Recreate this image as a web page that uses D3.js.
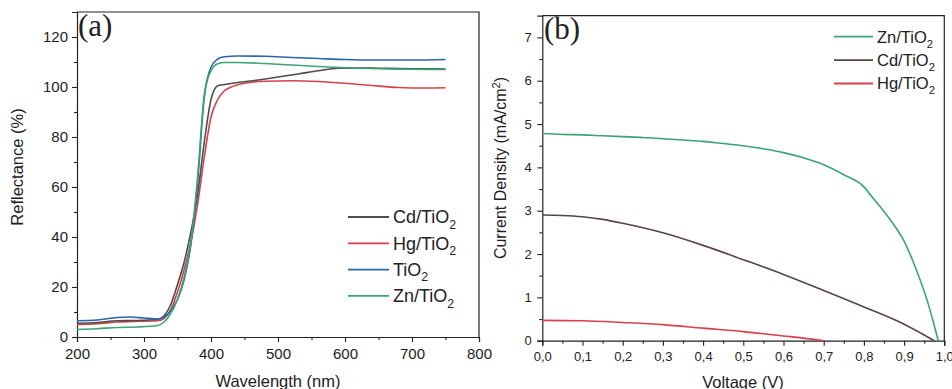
<!DOCTYPE html>
<html>
<head>
<meta charset="utf-8">
<script src="https://cdn.jsdelivr.net/npm/d3@7/dist/d3.min.js"></script>
<style>
  body { margin: 0; background: #fff; }
  text { font-family: "Liberation Sans", Arial, sans-serif; fill: #222; }
  text.panel { font-family: "Liberation Serif", "Times New Roman", serif; }
</style>
</head>
<body>
<div id="chart"></div>
<script>
// ---- panel (a): reflectance spectra ----
const wlCd  = [200,230,260,290,320,330,340,350,360,370,380,390,400,410,420,440,470,500,530,560,590,620,650,700,750];
const refCd = [5.5,5.8,6.5,6.6,7,8.5,13,21,30,42,57,78,95,100.5,101,101.8,102.8,104,105.2,106.5,107.5,107.6,107.5,107.3,107.2];

const wlHg  = [200,230,260,290,320,330,340,350,360,370,380,390,400,410,420,430,450,480,520,560,600,640,680,720,750];
const refHg = [5,5.3,6,6.3,6.5,7.5,11,18,27,38,53,72,88,95,98.5,100,101.5,102.3,102.5,102.2,101.5,100.6,99.8,99.6,99.7];

const wlTi  = [200,230,260,280,300,320,330,340,350,360,370,380,390,400,410,420,440,480,520,560,600,650,700,750];
const refTi = [6.5,6.8,7.8,8,7.6,7.2,8,10.5,15,23,37,62,96,108,111.2,112.1,112.4,112.3,111.8,111.4,111,110.8,110.8,111];

const wlZn  = [200,230,260,290,320,330,340,350,360,370,380,390,400,410,420,440,480,520,560,600,650,700,750];
const refZn = [3,3.3,3.8,4,4.6,6,9.5,15,24,38,64,97,106.5,109.3,109.8,109.8,109.4,108.8,108.2,107.7,107.3,107.1,107];

const legendA = ['Cd/TiO', 'Hg/TiO', 'TiO', 'Zn/TiO'];
const colorsA = ['#4d4d4d', '#d8414a', '#2c63ae', '#3aa571'];

// ---- panel (b): J-V curves ----
const vZn = [0,0.05,0.1,0.15,0.2,0.25,0.3,0.35,0.4,0.45,0.5,0.55,0.6,0.65,0.7,0.75,0.8,0.82,0.85,0.88,0.9,0.92,0.94,0.96,0.975,0.985];
const jZn = [4.78,4.76,4.75,4.73,4.71,4.69,4.66,4.63,4.6,4.55,4.5,4.43,4.34,4.22,4.06,3.83,3.55,3.32,2.98,2.6,2.3,1.88,1.4,0.85,0.35,0];

const vCd = [0,0.05,0.1,0.15,0.2,0.3,0.4,0.5,0.6,0.7,0.8,0.9,0.975];
const jCd = [2.9,2.89,2.86,2.8,2.71,2.49,2.2,1.87,1.53,1.16,0.78,0.38,0];

const vHg = [0,0.1,0.2,0.3,0.4,0.5,0.6,0.65,0.7];
const jHg = [0.47,0.46,0.42,0.37,0.29,0.21,0.11,0.06,0];

const legendB = ['Zn/TiO', 'Cd/TiO', 'Hg/TiO'];
const colorsB = ['#3aa571', '#5a4444', '#d8414a'];

const svg = d3.select('#chart').append('svg')
    .attr('width', 952)
    .attr('height', 389);

function drawFrame(x, y, major, minor, yMajor, yMinor, fmt, fs, padX, padY) {
    const [x0, x1] = x.range();
    const [y0, y1] = y.range();

    // frame top + right
    svg.append('path')
        .attr('d', `M${x0},${y1}H${x1}V${y0}`)
        .attr('fill', 'none').attr('stroke', '#222').attr('stroke-width', 1.2);

    const gx = svg.append('g')
        .attr('transform', 'translate(0,' + y0 + ')')
        .call(d3.axisBottom(x).tickValues(major).tickSize(5).tickPadding(padX).tickFormat(fmt));
    svg.append('g')
        .attr('transform', 'translate(0,' + y0 + ')')
        .call(d3.axisBottom(x).tickValues(minor).tickSize(3).tickFormat(''))
        .select('.domain').remove();

    const gy = svg.append('g')
        .attr('transform', 'translate(' + x0 + ',0)')
        .call(d3.axisLeft(y).tickValues(yMajor).tickSize(5).tickPadding(padY));
    svg.append('g')
        .attr('transform', 'translate(' + x0 + ',0)')
        .call(d3.axisLeft(y).tickValues(yMinor).tickSize(3).tickFormat(''))
        .select('.domain').remove();

    svg.selectAll('.tick line').attr('stroke', '#222').attr('stroke-width', 1.1);
    svg.selectAll('.domain').attr('stroke', '#222').attr('stroke-width', 1.2);
    [gx, gy].forEach(g => g.selectAll('text').attr('font-size', fs).attr('fill', '#222'));
}

function drawLegend(names, colors, lx0, lx1, ly, step, fs) {
    names.forEach((n, i) => {
        const yy = ly + i * step;
        svg.append('line')
            .attr('x1', lx0).attr('x2', lx1).attr('y1', yy).attr('y2', yy)
            .attr('stroke', colors[i]).attr('stroke-width', 1.8);
        const t = svg.append('text')
            .attr('x', lx1 + 4).attr('y', yy + fs * 0.36)
            .attr('font-size', fs);
        t.append('tspan').text(n);
        t.append('tspan').text('2').attr('font-size', fs * 0.68).attr('dy', fs * 0.3);
    });
}

// ================= panel (a) =================
const xa = d3.scaleLinear().domain([200, 800]).range([77, 479]);
const ya = d3.scaleLinear().domain([0, 130]).range([337, 12]);

drawFrame(xa, ya,
    d3.range(200, 801, 100), d3.range(250, 800, 100),
    d3.range(0, 121, 20), d3.range(10, 130, 20),
    d3.format('d'), 15, 6, 4);

const lineA = d3.line().x(d => xa(d[0])).y(d => ya(d[1])).curve(d3.curveMonotoneX);
const seriesA = [[wlCd, refCd], [wlHg, refHg], [wlTi, refTi], [wlZn, refZn]];
// draw order so that green/blue sit on top like the original
[1, 0, 2, 3].forEach(i => {
    const [xs, ys] = seriesA[i];
    svg.append('path')
        .datum(xs.map((v, k) => [v, ys[k]]))
        .attr('d', lineA)
        .attr('fill', 'none')
        .attr('stroke', colorsA[i])
        .attr('stroke-width', 1.6);
});

drawLegend(legendA, colorsA, 348, 389, 217, 26.3, 18);

svg.append('text').attr('class', 'panel').attr('x', 78).attr('y', 36)
    .attr('font-size', 31).text('(a)');

svg.append('text').attr('x', 278).attr('y', 386.5)
    .attr('text-anchor', 'middle').attr('font-size', 16.5).text('Wavelength (nm)');
svg.append('text')
    .attr('transform', 'translate(23,167) rotate(-90)')
    .attr('text-anchor', 'middle').attr('font-size', 16.5).text('Reflectance (%)');

// ================= panel (b) =================
const xb = d3.scaleLinear().domain([0, 1]).range([542.3, 944.3]);
const yb = d3.scaleLinear().domain([0, 7.5]).range([340.7, 15.7]);

const commaFmt = d => d3.format('.1f')(d).replace('.', ',');
drawFrame(xb, yb,
    d3.range(0, 1.01, 0.1), d3.range(0.05, 1, 0.1),
    d3.range(0, 7.1, 1), d3.range(0.5, 7.5, 1),
    commaFmt, 13, 6.5, 5.5);

const lineB = d3.line().x(d => xb(d[0])).y(d => yb(d[1])).curve(d3.curveMonotoneX);
const seriesB = [[vZn, jZn], [vCd, jCd], [vHg, jHg]];
seriesB.forEach(([xs, ys], i) => {
    svg.append('path')
        .datum(xs.map((v, k) => [v, ys[k]]))
        .attr('d', lineB)
        .attr('fill', 'none')
        .attr('stroke', colorsB[i])
        .attr('stroke-width', 1.6);
});

drawLegend(legendB, colorsB, 834, 873, 36.7, 23.4, 16.5);

svg.append('text').attr('class', 'panel').attr('x', 544).attr('y', 38.5)
    .attr('font-size', 31).text('(b)');

svg.append('text').attr('x', 743).attr('y', 387.5)
    .attr('text-anchor', 'middle').attr('font-size', 16.5).text('Voltage (V)');
const yl = svg.append('text')
    .attr('transform', 'translate(506,168) rotate(-90)')
    .attr('text-anchor', 'middle').attr('font-size', 16);
yl.append('tspan').text('Current Density (mA/cm');
yl.append('tspan').text('2').attr('font-size', 11).attr('dy', -6);
yl.append('tspan').text(')').attr('dy', 6);
</script>
</body>
</html>
